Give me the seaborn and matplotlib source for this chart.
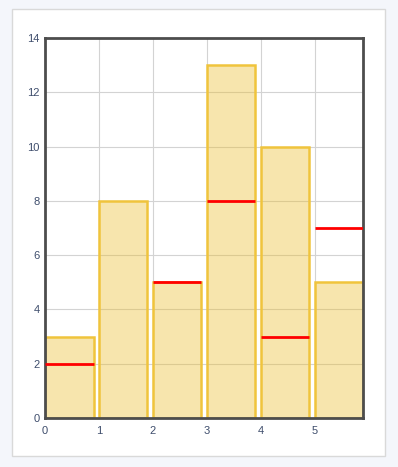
import numpy as np
import pandas as pd
import seaborn as sns
import matplotlib.pyplot as plt
from matplotlib.patches import FancyBboxPatch

# bar data: each bar starts at an integer position
starts = [0, 1, 2, 3, 4, 5]
heights = [3, 8, 5, 13, 10, 5]
# red markers (none visible on the second bar)
markers = [2, np.nan, 5, 8, 3, 7]
bar_width = 0.9

x_ticks = [0, 1, 2, 3, 4, 5]
y_ticks = [0, 2, 4, 6, 8, 10, 12, 14]

sns.set_style("white")
plt.rcParams["font.family"] = ["Liberation Sans", "DejaVu Sans"]
plt.rcParams["font.size"] = 8

fig = plt.figure(figsize=(3.98, 4.67), dpi=100)
fig.patch.set_facecolor("#f4f6fb")

# white panel behind the chart
fig.patches.append(FancyBboxPatch((0.030, 0.024), 0.937, 0.956, boxstyle="square,pad=0",
                                  transform=fig.transFigure, facecolor="white",
                                  edgecolor="#d9d9d9", linewidth=1, zorder=-5))

ax = fig.add_axes([0.1131, 0.1049, 0.799, 0.8137])
ax.set_facecolor("white")

df = pd.DataFrame({"center": [s + bar_width / 2 for s in starts], "height": heights})
sns.barplot(data=df, x="center", y="height", native_scale=True, width=bar_width,
            color="#ebbe32", saturation=1, edgecolor="#f0c43c", linewidth=1.8, ax=ax,
            zorder=2)
for bar in ax.patches:
    bar.set_facecolor((235 / 255, 190 / 255, 50 / 255, 0.4))
    bar.set_edgecolor("#f0c43c")

for s, m in zip(starts, markers):
    if not np.isnan(m):
        ax.hlines(m, s, s + bar_width, colors="#ff0000", linewidth=2, zorder=3)

ax.set_xlim(0, 5.9)
ax.set_ylim(0, 14)
ax.set_xticks(x_ticks)
ax.set_yticks(y_ticks)
ax.set_xticklabels([str(t) for t in x_ticks])
ax.set_yticklabels([str(t) for t in y_ticks])
ax.set_xlabel("")
ax.set_ylabel("")
ax.grid(True, color="#d3d3d3", linewidth=0.8, zorder=0)
ax.set_axisbelow(True)
ax.tick_params(axis="both", length=0, colors="#3e4d6c", labelsize=8)
ax.tick_params(axis="x", pad=6)
ax.tick_params(axis="y", pad=4)
for sp in ax.spines.values():
    sp.set_color("#4d4d4d")
    sp.set_linewidth(2)

fig.savefig("out.png", dpi=100, facecolor=fig.get_facecolor())
